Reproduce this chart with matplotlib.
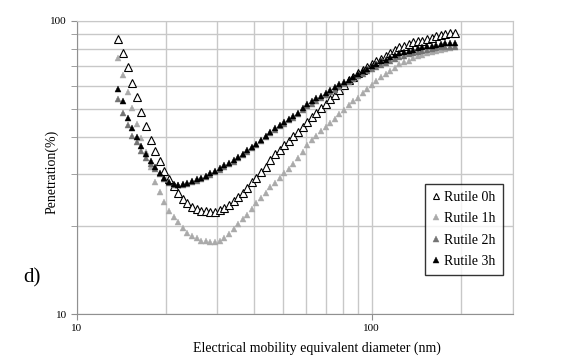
import matplotlib
matplotlib.use("Agg")
import matplotlib.pyplot as plt
from matplotlib.ticker import LogLocator, NullFormatter, FixedLocator, FixedFormatter

plt.rcParams['font.family'] = ['Liberation Serif', 'DejaVu Serif']

# SMPS channel midpoints (nm)
diam = [13.8, 14.3, 14.9, 15.4, 16.0, 16.5, 17.2, 17.8, 18.4, 19.1,
        19.8, 20.5, 21.3, 22.1, 22.9, 23.7, 24.6, 25.5, 26.4, 27.4,
        28.4, 29.4, 30.5, 31.6, 32.8, 34.0, 35.2, 36.5, 37.9, 39.2,
        40.6, 42.1, 43.7, 45.3, 46.9, 48.7, 50.5, 52.3, 54.2, 56.2,
        58.3, 60.4, 62.6, 64.9, 67.3, 69.8, 72.3, 75.0, 77.7, 80.6,
        83.5, 86.6, 89.8, 93.1, 96.5, 100.0, 103.7, 107.5, 111.4, 115.5,
        119.7, 124.1, 128.6, 133.3, 138.2, 143.3, 148.6, 154.0, 159.6, 165.5,
        171.5, 177.8, 184.3, 191.1]

rutile_0h = [86.4, 77.8, 69.5, 61.4, 54.8, 48.9, 43.8, 39.2, 35.9, 33.2,
             30.7, 28.8, 27.3, 25.8, 24.6, 23.9, 23.2, 22.8, 22.5, 22.4,
             22.3, 22.3, 22.6, 22.9, 23.5, 24.2, 25.0, 25.9, 26.9, 28.1,
             29.2, 30.5, 31.8, 33.5, 35.0, 36.3, 37.6, 39.0, 40.4, 41.7,
             43.4, 45.2, 46.8, 48.6, 50.4, 52.2, 54.2, 56.0, 58.0, 60.3,
             62.7, 64.5, 66.3, 67.9, 69.5, 71.2, 72.6, 74.0, 75.5, 77.6,
             79.4, 81.3, 82.3, 83.6, 84.3, 85.2, 85.6, 86.6, 87.6, 88.7,
             89.4, 90.1, 90.6, 91.0]

rutile_1h = [74.8, 65.3, 57.2, 50.5, 44.6, 39.8, 35.6, 31.7, 28.2, 26.0,
             24.1, 22.4, 21.4, 20.6, 19.6, 18.9, 18.4, 18.1, 17.8, 17.7,
             17.6, 17.6, 17.8, 18.2, 18.7, 19.5, 20.2, 21.0, 21.7, 22.8,
             23.9, 24.8, 25.9, 27.0, 28.0, 29.0, 30.2, 31.3, 32.4, 33.9,
             35.8, 37.6, 39.2, 40.6, 42.0, 43.5, 44.9, 46.4, 47.9, 49.6,
             51.4, 53.2, 54.7, 56.6, 58.7, 60.3, 62.3, 64.2, 66.0, 67.6,
             69.2, 71.2, 72.3, 73.1, 74.6, 75.5, 76.4, 77.3, 78.2, 79.1,
             79.4, 80.1, 81.0, 82.0]

rutile_2h = [54.1, 48.6, 44.1, 40.4, 38.5, 35.9, 34.0, 32.4, 31.1, 30.0,
             28.9, 28.0, 27.6, 27.5, 27.6, 27.8, 28.2, 28.5, 28.9, 29.3,
             29.8, 30.4, 31.0, 31.7, 32.4, 33.1, 34.0, 34.8, 35.8, 36.7,
             37.7, 38.8, 40.1, 41.4, 42.5, 43.7, 44.6, 45.7, 46.7, 48.0,
             49.8, 51.0, 52.2, 53.4, 54.4, 55.8, 57.1, 58.2, 59.6, 60.8,
             61.8, 63.2, 64.7, 66.0, 67.3, 68.6, 69.3, 70.4, 71.5, 72.9,
             74.1, 75.0, 75.9, 76.7, 77.3, 78.0, 78.9, 79.5, 79.8, 80.4,
             81.1, 81.4, 81.4, 81.4]

rutile_3h = [58.5, 53.4, 46.5, 43.0, 40.1, 37.4, 35.1, 33.3, 31.6, 30.2,
             29.0, 28.2, 27.7, 27.6, 27.7, 28.0, 28.4, 28.8, 29.2, 29.6,
             30.2, 30.8, 31.4, 32.1, 32.8, 33.5, 34.4, 35.2, 36.2, 37.1,
             38.1, 39.3, 40.6, 41.9, 43.0, 44.2, 45.1, 46.2, 47.3, 48.6,
             50.4, 52.0, 53.2, 54.5, 55.5, 56.9, 58.2, 59.4, 60.8, 62.0,
             63.0, 64.5, 66.0, 67.3, 68.7, 70.0, 71.4, 72.6, 73.7, 75.2,
             76.4, 77.3, 78.2, 79.1, 79.7, 80.4, 81.3, 82.0, 82.3, 82.9,
             83.6, 83.9, 83.9, 83.9]

fig = plt.figure(figsize=(5.78, 3.59), dpi=100)
ax = fig.add_axes([76.7/578, 1-314/359, (512.5-76.7)/578, (314-20.7)/359])

ms = 5
ax.plot(diam, rutile_0h, linestyle='none', marker='^', ms=ms+0.5, mfc='white', mec='black', mew=0.8, label='Rutile 0h')
ax.plot(diam, rutile_1h, linestyle='none', marker='^', ms=ms, mfc='#aaaaaa', mec='#aaaaaa', mew=0.3, label='Rutile 1h')
ax.plot(diam, rutile_2h, linestyle='none', marker='^', ms=ms, mfc='#737373', mec='#737373', mew=0.3, label='Rutile 2h')
ax.plot(diam, rutile_3h, linestyle='none', marker='^', ms=ms, mfc='black', mec='black', mew=0.3, label='Rutile 3h')

ax.set_xscale('log')
ax.set_yscale('log')
ax.set_xlim(10, 300)
ax.set_ylim(10, 100)

ax.xaxis.set_major_locator(FixedLocator([10, 100]))
ax.xaxis.set_major_formatter(FixedFormatter(['10', '100']))
ax.xaxis.set_minor_locator(LogLocator(base=10, subs=range(2, 10)))
ax.xaxis.set_minor_formatter(NullFormatter())
ax.yaxis.set_major_locator(FixedLocator([10, 100]))
ax.yaxis.set_major_formatter(FixedFormatter(['10', '100']))
ax.yaxis.set_minor_locator(LogLocator(base=10, subs=range(2, 10)))
ax.yaxis.set_minor_formatter(NullFormatter())

ax.grid(True, which='both', color='#c8c8c8', lw=1.0)
ax.set_axisbelow(True)
ax.tick_params(axis='both', which='major', labelsize=8, length=4, color='#909090', pad=3)
ax.tick_params(axis='y', which='minor', length=4, color='#909090')
ax.tick_params(axis='x', which='minor', length=0)
for s in ['left', 'bottom']:
    ax.spines[s].set_color('#909090')
for s in ['top', 'right']:
    ax.spines[s].set_color('#c8c8c8')

fig.text(51.7/578, 1-172/359, 'Penetration(%)', rotation=90, ha='center', va='center', fontsize=10)
fig.text(317/578, 1-348/359, 'Electrical mobility equivalent diameter (nm)', ha='center', va='center', fontsize=10)
fig.text(32/578, 1-278/359, 'd)', ha='center', va='center', fontsize=15)

leg = ax.legend(loc='upper left', bbox_to_anchor=(425/578, 1-184/359), bbox_transform=fig.transFigure,
                fontsize=10, frameon=True, fancybox=False, handlelength=0.6, handletextpad=0.3,
                labelspacing=0.6, borderpad=0.5, markerscale=0.9, borderaxespad=0)
leg.get_frame().set_edgecolor('black')
leg.get_frame().set_linewidth(1.0)

fig.savefig('out.png', dpi=100)
